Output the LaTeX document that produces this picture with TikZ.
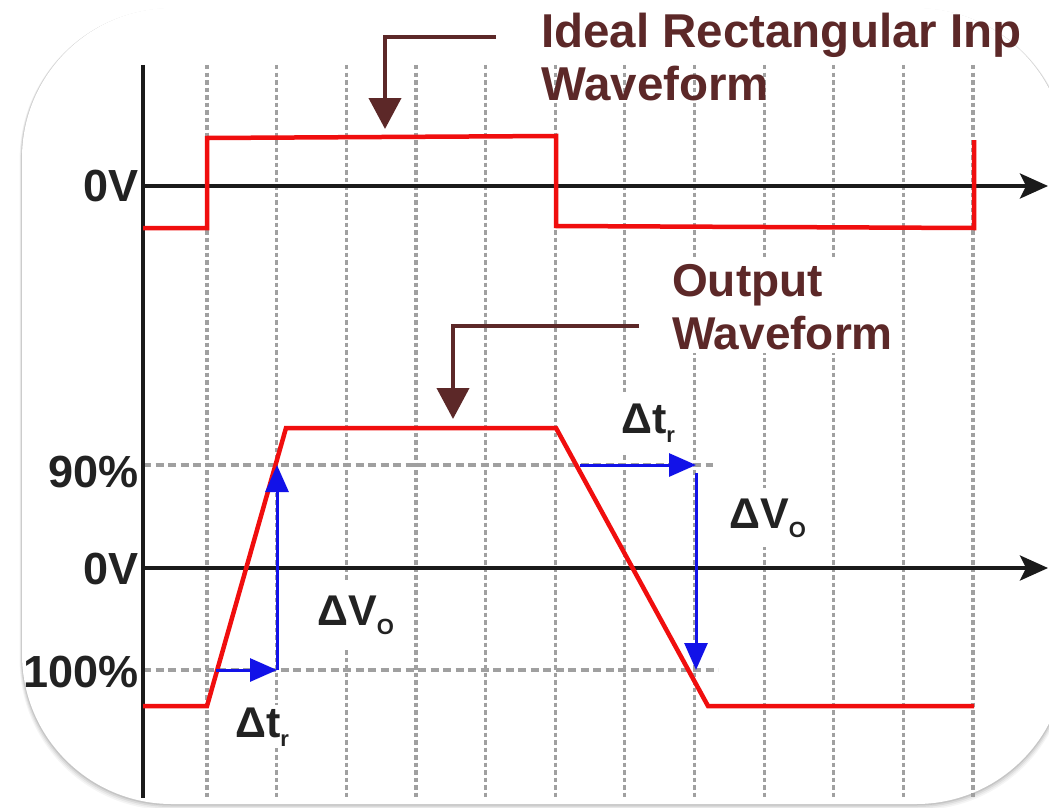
\documentclass[tikz,border=0pt]{standalone}
\usepackage{fontspec}
\setmainfont{Liberation Sans}
\usetikzlibrary{arrows.meta}
\definecolor{gridgray}{RGB}{160,160,160}
\definecolor{wavered}{RGB}{240,14,14}
\definecolor{arrowblue}{RGB}{18,18,232}
\definecolor{callout}{RGB}{92,40,40}
\definecolor{labeltext}{RGB}{34,34,34}
\definecolor{axisblack}{RGB}{26,26,26}
\tikzset{
  vgrid/.style={draw=gridgray, line width=3.2pt, dash pattern=on 4.5pt off 3pt},
  hgrid/.style={draw=gridgray, line width=3.2pt, dash pattern=on 8pt off 4.5pt},
  axisline/.style={draw=axisblack, line width=3.5pt},
  axisarrow/.style={axisline, -{Stealth[width=25pt,length=28pt,inset=6pt]}},
  wave/.style={draw=wavered, line width=4.5pt, line join=miter},
  bluearrow/.style={draw=arrowblue, line width=3pt, -{Triangle[width=23pt,length=27pt]}},
  calloutarrow/.style={draw=callout, line width=4pt, -{Triangle[width=32pt,length=31pt]}},
  calloutlabel/.style={font=\fontsize{46}{53}\selectfont\bfseries, text=callout, align=left, inner sep=0pt},
  axislabel/.style={font=\fontsize{45}{45}\selectfont\bfseries, text=labeltext, inner sep=0pt, anchor=east},
  deltalabel/.style={font=\fontsize{43}{43}\selectfont\bfseries, text=labeltext, inner sep=0pt, anchor=base west},
  whitebox/.style={fill=white}
}
\newcommand{\subO}{\raisebox{-9pt}{\fontsize{22}{22}\selectfont O}}
\newcommand{\subr}{\raisebox{-9pt}{\fontsize{22}{22}\selectfont r}}
\begin{document}
\begin{tikzpicture}[x=1pt,y=-1pt]
\useasboundingbox (0,0) rectangle (1049,808);
% background card with soft shadow
\foreach \o/\op in {6/0.04,4.5/0.05,3/0.07,1.5/0.09}
  \fill[black, opacity=\op, rounded corners=150pt] (22-\o*0.4,8+\o*0.2) rectangle (1066+\o*0.4,804+\o);
\fill[white, rounded corners=150pt] (22,8) rectangle (1066,804);

% vertical grid
\foreach \i in {0,...,11}
  \draw[vgrid] ({207+69.64*\i},65) -- ({207+69.64*\i},800);
% horizontal level lines
\draw[hgrid] (143,465) -- (713,465);
\draw[hgrid] (143,670) -- (718,670);

% delta labels with white backing
\node[deltalabel, whitebox, inner xsep=10pt, inner ysep=14pt] (dvlow) at (307,625) {ΔV\subO};
\node[deltalabel, whitebox, inner xsep=6pt, inner ysep=10pt] (dvhigh) at (723,528) {ΔV\subO};
\node[deltalabel, whitebox, inner xsep=6pt, inner ysep=10pt] (dthigh) at (615,433) {Δt\subr};
\node[deltalabel, whitebox, inner sep=2pt] (dtlow) at (233,737) {Δt\subr};

% callout texts
\begin{scope}
  \clip (0,0) rectangle (1020,808);
  \node[calloutlabel, font=\fontsize{47.5}{53}\selectfont\bfseries, anchor=base west] (inlabel) at (541,100) {Ideal Rectangular Input\\Waveform};
\end{scope}
\node[calloutlabel, anchor=base west, fill=white, inner sep=4pt] (outlabel) at (668,349) {Output\\Waveform};

% axes
\draw[axisline] (143,65) -- (143,798);
\draw[axisarrow] (143,186) -- (1048,186);
\draw[axisarrow] (143,568) -- (1048,568);

% axis labels
\node[axislabel] (zerotop) at (139,186) {0V};
\node[axislabel] (ninety) at (139,472) {90\%};
\node[axislabel] (zerobot) at (139,569) {0V};
\node[axislabel] (hundred) at (139,672) {100\%};

% input waveform
\draw[wave] (143,228) -- (207,228) -- (207,138) -- (556,136) -- (556,226) -- (974,228) -- (974,140);
% output waveform
\draw[wave] (143,706) -- (207,706) -- (286,428) -- (556,428) -- (708,706) -- (974,706);

% blue measurement arrows
\coordinate (rs) at (216,670);
\coordinate (rc) at (277,670);
\coordinate (rt) at (277,465);
\coordinate (fs) at (580,465);
\coordinate (fc) at (696,465);
\coordinate (fb) at (696,473);
\coordinate (ft) at (696,670);
\draw[bluearrow] (rs) -- (rc);
\draw[bluearrow] (rc) -- (rt);
\draw[bluearrow] (fs) -- (fc);
\draw[bluearrow] (fb) -- (ft);

% callout arrows
\coordinate (c1s) at (496,37);
\coordinate (c1e) at (385,129);
\coordinate (c2s) at (639,326);
\coordinate (c2e) at (453,419);
\draw[calloutarrow] (c1s) -| (c1e);
\draw[calloutarrow] (c2s) -| (c2e);
\end{tikzpicture}
\end{document}
